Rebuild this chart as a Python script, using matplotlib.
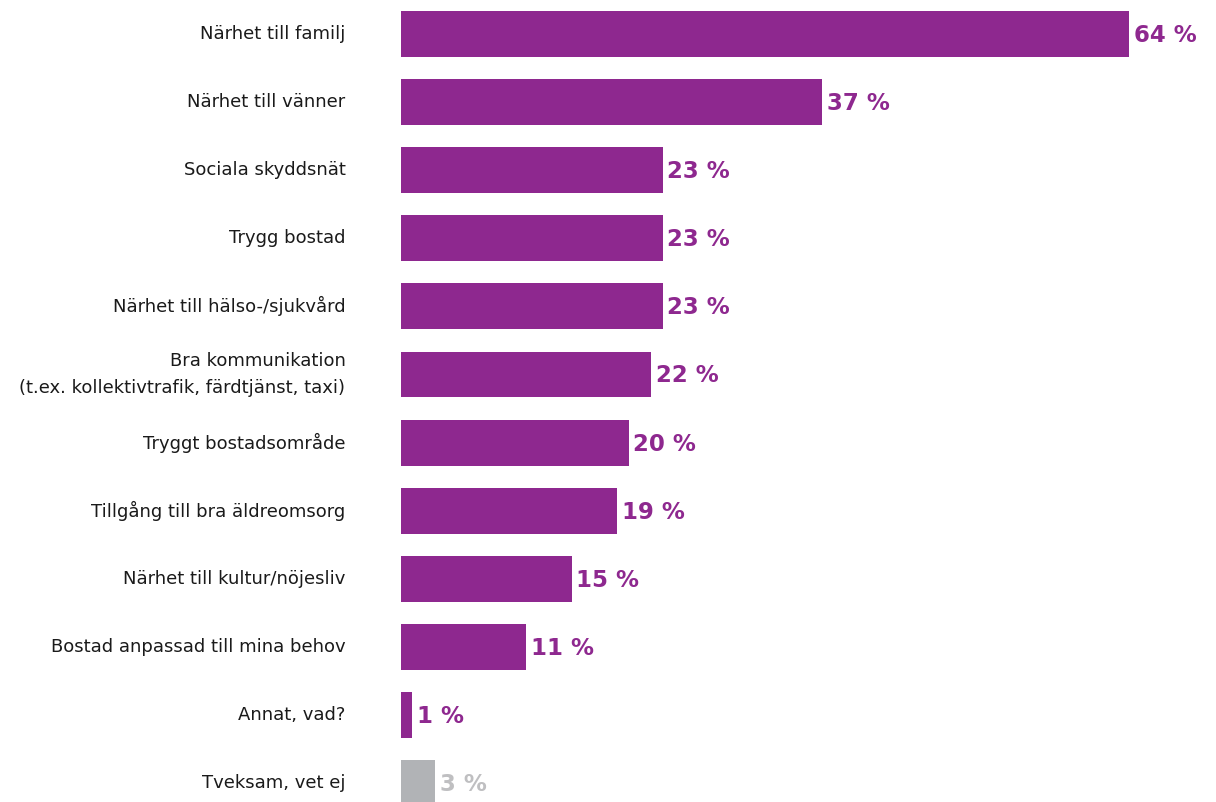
import matplotlib
matplotlib.use("Agg")
import matplotlib.pyplot as plt

categories = [
    "Närhet till familj",
    "Närhet till vänner",
    "Sociala skyddsnät",
    "Trygg bostad",
    "Närhet till hälso-/sjukvård",
    "Bra kommunikation\n(t.ex. kollektivtrafik, färdtjänst, taxi)",
    "Tryggt bostadsområde",
    "Tillgång till bra äldreomsorg",
    "Närhet till kultur/nöjesliv",
    "Bostad anpassad till mina behov",
    "Annat, vad?",
    "Tveksam, vet ej",
]
values = [64, 37, 23, 23, 23, 22, 20, 19, 15, 11, 1, 3]
is_unsure = [False] * 11 + [True]

PURPLE = "#8E288F"
GREY_BAR = "#B1B3B6"
GREY_TEXT = "#BFBFC1"

plt.rcParams["font.family"] = ["DejaVu Sans"]

fig = plt.figure(figsize=(12.16, 8.02), dpi=100)
ax = fig.add_axes([401 / 1216, 0, 815 / 1216, 1])

ypos = list(range(len(categories)))
colors = [GREY_BAR if u else PURPLE for u in is_unsure]
ax.barh(ypos, values, height=0.675, color=colors, left=0)

for y, v, u in zip(ypos, values, is_unsure):
    ax.annotate(f"{v} %", xy=(v, y), xytext=(3.5, -1), textcoords="offset points",
                va="center", ha="left", fontsize=16.5, fontweight="bold",
                color=GREY_TEXT if u else PURPLE)

for y, label in zip(ypos, categories):
    ax.annotate(label, xy=(0, y), xytext=(-40, 0), textcoords="offset points",
                va="center", ha="right", fontsize=13, color="#1a1a1a",
                linespacing=1.65, annotation_clip=False)

ax.set_xlim(0, 815 / 11.375)
ax.set_ylim(11.277, -0.499)
ax.axis("off")

fig.savefig("out.png", dpi=100)
